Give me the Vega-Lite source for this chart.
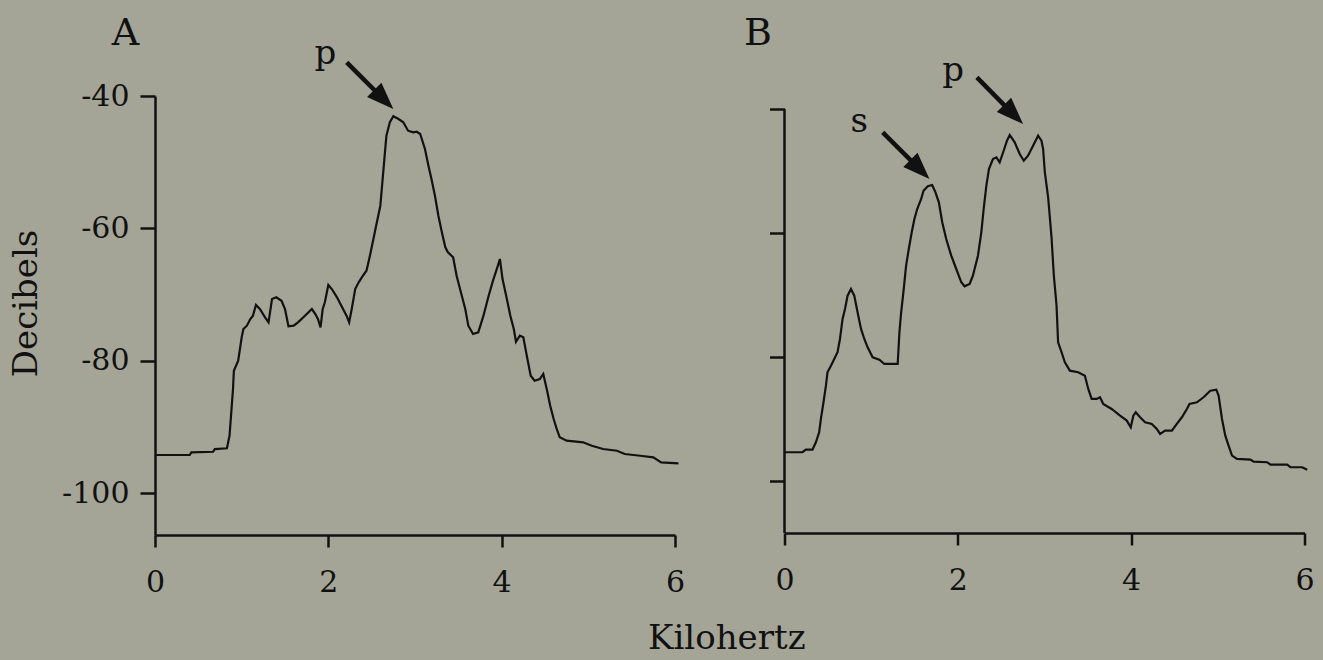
{
  "$schema": "https://vega.github.io/schema/vega-lite/v6.json",
  "background": "#a4a597",
  "padding": {"left": 9, "top": 14, "right": 30, "bottom": 10},
  "spacing": 58.5,
  "title": {"text": "Kilohertz", "orient": "bottom", "anchor": "middle", "font": "DejaVu Serif", "fontSize": 34, "fontWeight": "normal", "color": "#111111", "offset": 25, "dx": 65},
  "config": {
    "view": {"stroke": null},
    "font": "DejaVu Serif",
    "axis": {
      "grid": false,
      "domainColor": "#111111", "domainWidth": 2.5,
      "tickColor": "#111111", "tickWidth": 2.5,
      "labelFont": "DejaVu Serif", "labelFontSize": 30, "labelColor": "#111111",
      "labelFlush": false, "labelOverlap": false,
      "labelExpr": "datum.value < 0 ? '-' + abs(datum.value) : '' + datum.value",
      "titleFont": "DejaVu Serif", "titleFontSize": 34, "titleFontWeight": "normal", "titleColor": "#111111"
    },
    "axisX": {"tickSize": 12, "labelPadding": 20},
    "axisY": {"tickSize": 15, "labelPadding": 11}
  },
  "datasets": {
    "specA": [
      {"x":0,"y":-94.25},{"x":0.40,"y":-94.25},{"x":0.42,"y":-93.85},{"x":0.67,"y":-93.76},{"x":0.69,"y":-93.35},{"x":0.83,"y":-93.24},{"x":0.86,"y":-91.34},{"x":0.88,"y":-87.8},{"x":0.90,"y":-84.28},{"x":0.91,"y":-81.51},{"x":0.96,"y":-80.0},{"x":1.0,"y":-76.47},{"x":1.02,"y":-75.21},{"x":1.06,"y":-74.71},{"x":1.10,"y":-73.7},{"x":1.13,"y":-73.2},{"x":1.165,"y":-71.58},{"x":1.21,"y":-72.19},{"x":1.27,"y":-73.44},{"x":1.31,"y":-74.2},{"x":1.35,"y":-70.68},{"x":1.40,"y":-70.42},{"x":1.46,"y":-70.94},{"x":1.50,"y":-72.19},{"x":1.54,"y":-74.8},{"x":1.60,"y":-74.71},{"x":1.65,"y":-74.2},{"x":1.73,"y":-73.2},{"x":1.81,"y":-72.19},{"x":1.85,"y":-72.95},{"x":1.88,"y":-73.7},{"x":1.91,"y":-74.96},{"x":1.935,"y":-72.19},{"x":1.96,"y":-71.18},{"x":2.0,"y":-68.56},{"x":2.04,"y":-69.17},{"x":2.10,"y":-70.42},{"x":2.15,"y":-71.69},{"x":2.21,"y":-73.2},{"x":2.24,"y":-74.2},{"x":2.27,"y":-72.19},{"x":2.31,"y":-69.17},{"x":2.35,"y":-68.16},{"x":2.40,"y":-67.16},{"x":2.44,"y":-66.4},{"x":2.48,"y":-64.13},{"x":2.52,"y":-61.61},{"x":2.56,"y":-59.09},{"x":2.60,"y":-56.58},{"x":2.63,"y":-52.04},{"x":2.65,"y":-49.02},{"x":2.67,"y":-46.0},{"x":2.71,"y":-43.97},{"x":2.75,"y":-43.07},{"x":2.81,"y":-43.48},{"x":2.865,"y":-43.97},{"x":2.92,"y":-45.24},{"x":2.98,"y":-45.49},{"x":3.02,"y":-45.4},{"x":3.06,"y":-45.74},{"x":3.115,"y":-48.01},{"x":3.155,"y":-50.53},{"x":3.19,"y":-52.54},{"x":3.23,"y":-55.07},{"x":3.27,"y":-58.09},{"x":3.31,"y":-60.6},{"x":3.35,"y":-62.87},{"x":3.38,"y":-63.62},{"x":3.44,"y":-64.38},{"x":3.48,"y":-67.16},{"x":3.54,"y":-70.18},{"x":3.58,"y":-72.19},{"x":3.615,"y":-74.71},{"x":3.67,"y":-75.97},{"x":3.73,"y":-75.71},{"x":3.79,"y":-73.2},{"x":3.85,"y":-70.18},{"x":3.90,"y":-67.91},{"x":3.95,"y":-65.89},{"x":3.98,"y":-64.63},{"x":4.01,"y":-67.66},{"x":4.06,"y":-70.68},{"x":4.10,"y":-73.2},{"x":4.14,"y":-75.21},{"x":4.165,"y":-77.13},{"x":4.21,"y":-76.22},{"x":4.25,"y":-76.47},{"x":4.29,"y":-79.25},{"x":4.335,"y":-82.27},{"x":4.38,"y":-83.03},{"x":4.44,"y":-82.77},{"x":4.48,"y":-82.01},{"x":4.52,"y":-84.28},{"x":4.56,"y":-86.8},{"x":4.60,"y":-88.81},{"x":4.635,"y":-90.32},{"x":4.67,"y":-91.58},{"x":4.75,"y":-92.09},{"x":4.94,"y":-92.33},{"x":5.04,"y":-92.85},{"x":5.17,"y":-93.35},{"x":5.33,"y":-93.61},{"x":5.42,"y":-94.1},{"x":5.60,"y":-94.36},{"x":5.75,"y":-94.6},{"x":5.84,"y":-95.36},{"x":6.04,"y":-95.51}
    ],
    "specB": [
      {"x":0,"y":-95.37},{"x":0.207,"y":-95.37},{"x":0.246,"y":-94.95},{"x":0.323,"y":-94.95},{"x":0.362,"y":-93.76},{"x":0.40,"y":-92.15},{"x":0.42,"y":-90.0},{"x":0.45,"y":-87.31},{"x":0.478,"y":-84.63},{"x":0.496,"y":-82.47},{"x":0.536,"y":-81.4},{"x":0.574,"y":-80.32},{"x":0.612,"y":-79.24},{"x":0.64,"y":-77.1},{"x":0.67,"y":-73.87},{"x":0.698,"y":-72.26},{"x":0.728,"y":-70.11},{"x":0.767,"y":-69.03},{"x":0.805,"y":-70.11},{"x":0.843,"y":-72.79},{"x":0.883,"y":-75.48},{"x":0.921,"y":-77.1},{"x":0.959,"y":-78.44},{"x":1.017,"y":-80.05},{"x":1.095,"y":-80.44},{"x":1.152,"y":-81.13},{"x":1.306,"y":-81.13},{"x":1.326,"y":-76.02},{"x":1.346,"y":-72.79},{"x":1.372,"y":-69.56},{"x":1.403,"y":-65.27},{"x":1.434,"y":-62.58},{"x":1.468,"y":-59.89},{"x":1.499,"y":-57.74},{"x":1.531,"y":-56.13},{"x":1.577,"y":-54.52},{"x":1.604,"y":-53.18},{"x":1.653,"y":-52.47},{"x":1.704,"y":-52.26},{"x":1.742,"y":-53.44},{"x":1.781,"y":-55.05},{"x":1.82,"y":-58.27},{"x":1.866,"y":-60.97},{"x":1.924,"y":-63.66},{"x":1.982,"y":-65.81},{"x":2.04,"y":-67.95},{"x":2.078,"y":-68.6},{"x":2.136,"y":-68.23},{"x":2.174,"y":-66.89},{"x":2.232,"y":-63.66},{"x":2.271,"y":-59.89},{"x":2.298,"y":-56.13},{"x":2.329,"y":-52.37},{"x":2.359,"y":-49.68},{"x":2.405,"y":-48.06},{"x":2.445,"y":-47.79},{"x":2.483,"y":-48.6},{"x":2.529,"y":-46.73},{"x":2.567,"y":-45.11},{"x":2.599,"y":-44.19},{"x":2.656,"y":-45.37},{"x":2.714,"y":-47.26},{"x":2.761,"y":-48.34},{"x":2.81,"y":-47.53},{"x":2.868,"y":-45.92},{"x":2.926,"y":-44.31},{"x":2.965,"y":-45.11},{"x":2.984,"y":-46.45},{"x":3.004,"y":-50.21},{"x":3.042,"y":-54.24},{"x":3.081,"y":-60.69},{"x":3.108,"y":-66.89},{"x":3.139,"y":-71.73},{"x":3.157,"y":-77.63},{"x":3.197,"y":-79.24},{"x":3.235,"y":-80.85},{"x":3.293,"y":-82.21},{"x":3.389,"y":-82.47},{"x":3.466,"y":-83.02},{"x":3.505,"y":-85.16},{"x":3.544,"y":-86.77},{"x":3.602,"y":-86.77},{"x":3.64,"y":-86.5},{"x":3.678,"y":-87.58},{"x":3.775,"y":-88.39},{"x":3.872,"y":-89.47},{"x":3.949,"y":-90.27},{"x":3.995,"y":-91.34},{"x":4.025,"y":-89.47},{"x":4.053,"y":-88.92},{"x":4.103,"y":-89.73},{"x":4.161,"y":-90.53},{"x":4.238,"y":-90.81},{"x":4.296,"y":-91.61},{"x":4.334,"y":-92.42},{"x":4.392,"y":-91.89},{"x":4.47,"y":-91.89},{"x":4.527,"y":-90.81},{"x":4.585,"y":-89.73},{"x":4.643,"y":-88.39},{"x":4.673,"y":-87.58},{"x":4.759,"y":-87.31},{"x":4.835,"y":-86.5},{"x":4.913,"y":-85.44},{"x":4.982,"y":-85.27},{"x":5.009,"y":-86.24},{"x":5.048,"y":-90.0},{"x":5.086,"y":-92.69},{"x":5.124,"y":-94.31},{"x":5.164,"y":-95.92},{"x":5.221,"y":-96.45},{"x":5.376,"y":-96.56},{"x":5.414,"y":-96.89},{"x":5.569,"y":-96.98},{"x":5.607,"y":-97.37},{"x":5.8,"y":-97.37},{"x":5.838,"y":-97.79},{"x":5.974,"y":-97.79},{"x":6.031,"y":-98.18}
    ]
  },
  "hconcat": [
    {
      "width": 520,
      "height": 439,
      "encoding": {
        "x": {"field": "x", "type": "quantitative", "scale": {"domain": [0, 6], "nice": false, "zero": false}, "axis": {"values": [0, 2, 4, 6], "title": null}},
        "y": {"field": "y", "type": "quantitative", "scale": {"domain": [-106.34, -40], "nice": false, "zero": false}, "axis": {"values": [-40, -60, -80, -100], "title": "Decibels", "titlePadding": 18, "titleY": 207}}
      },
      "layer": [
        {"data": {"name": "specA"}, "mark": {"type": "line", "color": "#111111", "strokeWidth": 2.2}},
        {"data": {"values": [{"x": -0.5, "y": -32.29, "label": "A"}]}, "mark": {"type": "text", "fontSize": 38, "align": "left", "baseline": "alphabetic", "color": "#111111"}, "encoding": {"text": {"field": "label"}}},
        {"data": {"values": [{"x": 1.967, "y": -35.09, "label": "p"}]}, "mark": {"type": "text", "fontSize": 34, "align": "center", "baseline": "alphabetic", "color": "#111111"}, "encoding": {"text": {"field": "label"}}},
        {"data": {"values": [{"x": 2.212, "y": -34.91, "x2": 2.643, "y2": -40.57}]}, "mark": {"type": "rule", "color": "#111111", "strokeWidth": 4.5}, "encoding": {"x2": {"field": "x2"}, "y2": {"field": "y2"}}},
        {"data": {"values": [{"x": 2.75, "y": -41.96}]}, "mark": {"type": "point", "shape": "M0,0L-2,-0.75L-2,0.75Z", "angle": 45, "size": 729, "filled": true, "color": "#111111", "opacity": 1}}
      ]
    },
    {
      "width": 520,
      "height": 437,
      "encoding": {
        "x": {"field": "x", "type": "quantitative", "scale": {"domain": [0, 6], "nice": false, "zero": false}, "axis": {"values": [0, 2, 4, 6], "title": null}},
        "y": {"field": "y", "type": "quantitative", "scale": {"domain": [-108.4, -37.9], "nice": false, "zero": false}, "axis": {"values": [-40, -60, -80, -100], "title": null, "labels": false, "domain": false}}
      },
      "layer": [
        {"data": {"name": "specB"}, "mark": {"type": "line", "color": "#111111", "strokeWidth": 2.2}},
        {"data": {"values": [{"x": 0, "y": -40, "y2": -108.4}]}, "mark": {"type": "rule", "color": "#111111", "strokeWidth": 2.5}, "encoding": {"y2": {"field": "y2"}}},
        {"data": {"values": [{"x": -0.467, "y": -29.68, "label": "B"}]}, "mark": {"type": "text", "fontSize": 38, "align": "left", "baseline": "alphabetic", "color": "#111111"}, "encoding": {"text": {"field": "label"}}},
        {"data": {"values": [{"x": 0.863, "y": -43.71, "label": "s"}, {"x": 1.945, "y": -35.44, "label": "p"}]}, "mark": {"type": "text", "fontSize": 34, "align": "center", "baseline": "alphabetic", "color": "#111111"}, "encoding": {"text": {"field": "label"}}},
        {"data": {"values": [{"x": 1.133, "y": -43.76, "x2": 1.567, "y2": -49.81}, {"x": 2.22, "y": -34.89, "x2": 2.646, "y2": -40.94}]}, "mark": {"type": "rule", "color": "#111111", "strokeWidth": 4.5}, "encoding": {"x2": {"field": "x2"}, "y2": {"field": "y2"}}},
        {"data": {"values": [{"x": 1.673, "y": -51.29}, {"x": 2.753, "y": -42.42}]}, "mark": {"type": "point", "shape": "M0,0L-2,-0.75L-2,0.75Z", "angle": 45, "size": 729, "filled": true, "color": "#111111", "opacity": 1}}
      ]
    }
  ]
}
